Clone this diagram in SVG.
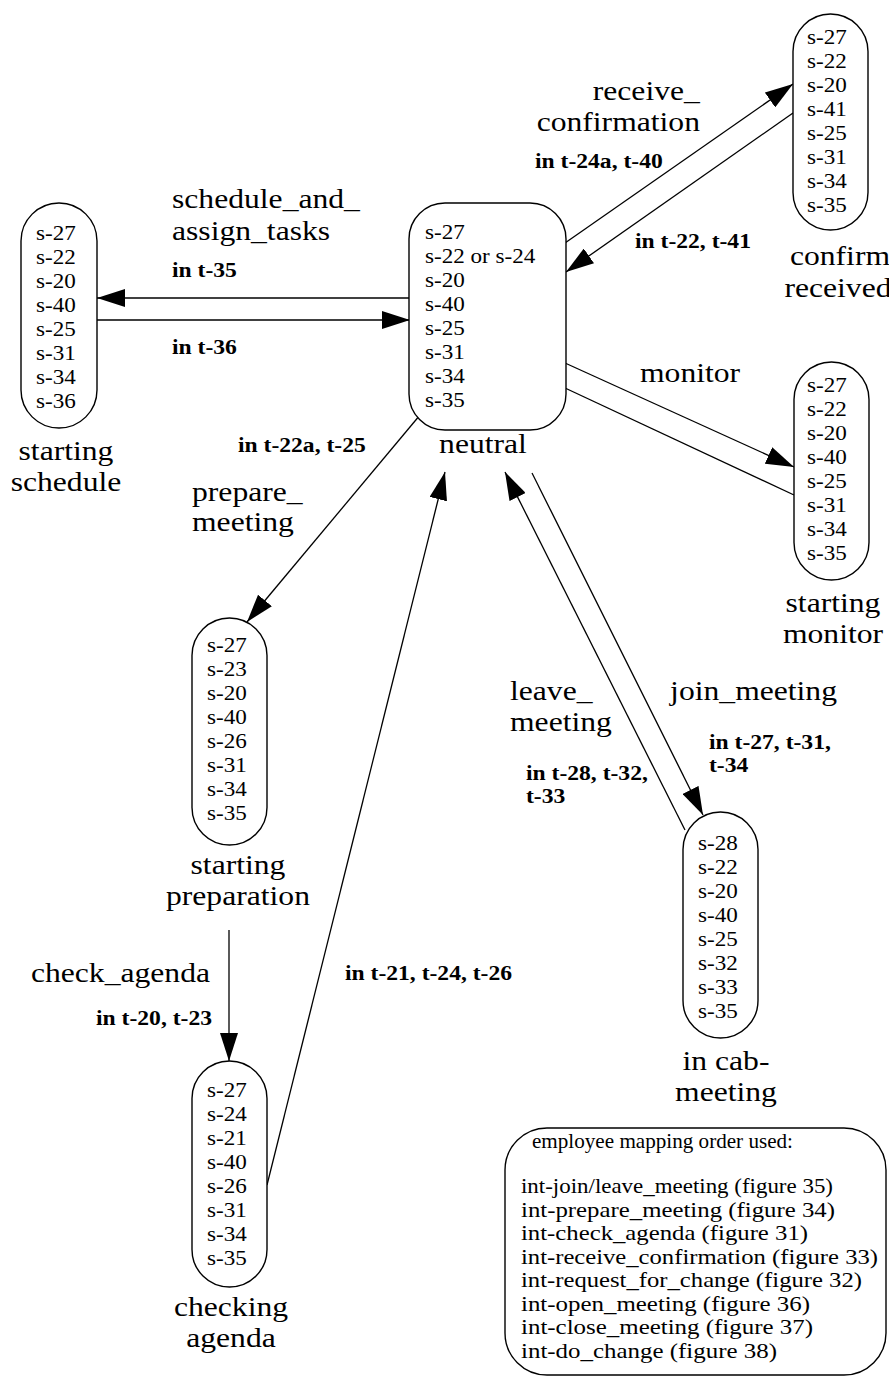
<svg xmlns="http://www.w3.org/2000/svg" width="889" height="1378" viewBox="0 0 889 1378">
<style>
.box{fill:#fff;stroke:#000;stroke-width:1.4}
text{fill:#000;font-family:"Liberation Serif","Times New Roman",serif;transform-box:fill-box}
.st{font-size:21px;transform:scaleX(1.1);transform-origin:0 0}
.lb{font-size:28px;transform:scaleX(1.13);transform-origin:0 0}
.lr{font-size:28px;text-anchor:end;transform:scaleX(1.13);transform-origin:100% 0}
.nm{font-size:28px;text-anchor:middle;transform:scaleX(1.13);transform-origin:50% 0}
.bd{font-size:20px;font-weight:bold;transform:scaleX(1.18);transform-origin:0 0}
.br{font-size:20px;font-weight:bold;text-anchor:end;transform:scaleX(1.18);transform-origin:100% 0}
.lg{font-size:21px}
.e{stroke:#000;stroke-width:1.3;fill:none}
.a{marker-end:url(#ah)}
</style>
<defs>
<marker id="ah" markerUnits="userSpaceOnUse" markerWidth="28" markerHeight="18" refX="28" refY="9" orient="auto">
<path d="M0,0 L28,9 L0,18 z" fill="#000"/>
</marker>
</defs>
<rect width="889" height="1378" fill="#fff"/>
<g id="connectors">
<line class="e a" x1="410" y1="298" x2="97" y2="298"/>
<line class="e a" x1="97" y1="320" x2="410" y2="320"/>
<line class="e a" x1="565" y1="243" x2="793" y2="84"/>
<line class="e a" x1="793" y1="113" x2="566" y2="272"/>
<line class="e a" x1="565" y1="363" x2="794" y2="467"/>
<line class="e" x1="794" y1="495" x2="565" y2="388"/>
<line class="e a" x1="420" y1="415" x2="247" y2="622"/>
<line class="e a" x1="229" y1="930" x2="229" y2="1061"/>
<line class="e a" x1="267" y1="1185" x2="445" y2="472"/>
<line class="e a" x1="532" y1="473" x2="703" y2="815"/>
<line class="e a" x1="685" y1="830" x2="505" y2="472"/>
<text class="lb" x="172" y="208">schedule_and_</text>
<text class="lb" x="172" y="240">assign_tasks</text>
<text class="bd" x="172" y="277">in t-35</text>
<text class="bd" x="172" y="354">in t-36</text>
<text class="lr" x="700" y="100">receive_</text>
<text class="lr" x="700" y="131">confirmation</text>
<text class="bd" x="535" y="168">in t-24a, t-40</text>
<text class="bd" x="635" y="248">in t-22, t-41</text>
<text class="lb" x="640" y="382">monitor</text>
<text class="bd" x="238" y="452">in t-22a, t-25</text>
<text class="lb" x="192" y="501">prepare_</text>
<text class="lb" x="192" y="531">meeting</text>
<text class="lb" x="510" y="700">leave_</text>
<text class="lb" x="510" y="731">meeting</text>
<text class="lb" x="670" y="700">join_meeting</text>
<text class="bd" x="709" y="749">in t-27, t-31,</text>
<text class="bd" x="709" y="772">t-34</text>
<text class="bd" x="526" y="780">in t-28, t-32,</text>
<text class="bd" x="526" y="803">t-33</text>
<text class="lr" x="210" y="982">check_agenda</text>
<text class="br" x="212" y="1025">in t-20, t-23</text>
<text class="bd" x="345" y="980">in t-21, t-24, t-26</text>
</g>
<g id="starting-schedule">
<rect class="box" x="21" y="203" width="76" height="225" rx="38" ry="38"/>
<text class="st" x="36" y="240">s-27</text><text class="st" x="36" y="264">s-22</text><text class="st" x="36" y="288">s-20</text><text class="st" x="36" y="312">s-40</text><text class="st" x="36" y="336">s-25</text><text class="st" x="36" y="360">s-31</text><text class="st" x="36" y="384">s-34</text><text class="st" x="36" y="408">s-36</text>
<text class="nm" x="66" y="460">starting</text><text class="nm" x="66" y="491">schedule</text>
</g>
<g id="neutral">
<rect class="box" x="409" y="203" width="157" height="227" rx="36" ry="36"/>
<text class="st" x="425" y="239">s-27</text><text class="st" x="425" y="263">s-22 or s-24</text><text class="st" x="425" y="287">s-20</text><text class="st" x="425" y="311">s-40</text><text class="st" x="425" y="335">s-25</text><text class="st" x="425" y="359">s-31</text><text class="st" x="425" y="383">s-34</text><text class="st" x="425" y="407">s-35</text>
<text class="nm" x="483" y="453">neutral</text>
</g>
<g id="confirm-received">
<rect class="box" x="793" y="14" width="75" height="216" rx="37.5" ry="37.5"/>
<text class="st" x="807" y="44">s-27</text><text class="st" x="807" y="68">s-22</text><text class="st" x="807" y="92">s-20</text><text class="st" x="807" y="116">s-41</text><text class="st" x="807" y="140">s-25</text><text class="st" x="807" y="164">s-31</text><text class="st" x="807" y="188">s-34</text><text class="st" x="807" y="212">s-35</text>
<text class="nm" x="840" y="265">confirm</text><text class="nm" x="838" y="297">received</text>
</g>
<g id="starting-monitor">
<rect class="box" x="794" y="362" width="75" height="218" rx="37.5" ry="37.5"/>
<text class="st" x="807" y="392">s-27</text><text class="st" x="807" y="416">s-22</text><text class="st" x="807" y="440">s-20</text><text class="st" x="807" y="464">s-40</text><text class="st" x="807" y="488">s-25</text><text class="st" x="807" y="512">s-31</text><text class="st" x="807" y="536">s-34</text><text class="st" x="807" y="560">s-35</text>
<text class="nm" x="833" y="612">starting</text><text class="nm" x="833" y="643">monitor</text>
</g>
<g id="starting-preparation">
<rect class="box" x="192" y="618" width="75" height="227" rx="37.5" ry="37.5"/>
<text class="st" x="207" y="652">s-27</text><text class="st" x="207" y="676">s-23</text><text class="st" x="207" y="700">s-20</text><text class="st" x="207" y="724">s-40</text><text class="st" x="207" y="748">s-26</text><text class="st" x="207" y="772">s-31</text><text class="st" x="207" y="796">s-34</text><text class="st" x="207" y="820">s-35</text>
<text class="nm" x="238" y="874">starting</text><text class="nm" x="238" y="905">preparation</text>
</g>
<g id="checking-agenda">
<rect class="box" x="192" y="1061" width="75" height="226" rx="37.5" ry="37.5"/>
<text class="st" x="207" y="1097">s-27</text><text class="st" x="207" y="1121">s-24</text><text class="st" x="207" y="1145">s-21</text><text class="st" x="207" y="1169">s-40</text><text class="st" x="207" y="1193">s-26</text><text class="st" x="207" y="1217">s-31</text><text class="st" x="207" y="1241">s-34</text><text class="st" x="207" y="1265">s-35</text>
<text class="nm" x="231" y="1316">checking</text><text class="nm" x="231" y="1347">agenda</text>
</g>
<g id="in-cab-meeting">
<rect class="box" x="683" y="812" width="75" height="226" rx="37.5" ry="37.5"/>
<text class="st" x="698" y="850">s-28</text><text class="st" x="698" y="874">s-22</text><text class="st" x="698" y="898">s-20</text><text class="st" x="698" y="922">s-40</text><text class="st" x="698" y="946">s-25</text><text class="st" x="698" y="970">s-32</text><text class="st" x="698" y="994">s-33</text><text class="st" x="698" y="1018">s-35</text>
<text class="nm" x="726" y="1070">in cab-</text><text class="nm" x="726" y="1101">meeting</text>
</g>
<g id="legend">
<rect class="box" x="505" y="1128" width="381" height="247" rx="42" ry="42"/>
<text class="lg" x="532" y="1148" textLength="261" lengthAdjust="spacingAndGlyphs">employee mapping order used:</text>
<text class="lg" x="521" y="1193" textLength="312" lengthAdjust="spacingAndGlyphs">int-join/leave_meeting (figure 35)</text>
<text class="lg" x="521" y="1216.5" textLength="314" lengthAdjust="spacingAndGlyphs">int-prepare_meeting (figure 34)</text>
<text class="lg" x="521" y="1240" textLength="287" lengthAdjust="spacingAndGlyphs">int-check_agenda (figure 31)</text>
<text class="lg" x="521" y="1263.5" textLength="357" lengthAdjust="spacingAndGlyphs">int-receive_confirmation (figure 33)</text>
<text class="lg" x="521" y="1287" textLength="341" lengthAdjust="spacingAndGlyphs">int-request_for_change (figure 32)</text>
<text class="lg" x="521" y="1310.5" textLength="289" lengthAdjust="spacingAndGlyphs">int-open_meeting (figure 36)</text>
<text class="lg" x="521" y="1334" textLength="292" lengthAdjust="spacingAndGlyphs">int-close_meeting (figure 37)</text>
<text class="lg" x="521" y="1357.5" textLength="256" lengthAdjust="spacingAndGlyphs">int-do_change (figure 38)</text>
</g>
</svg>
